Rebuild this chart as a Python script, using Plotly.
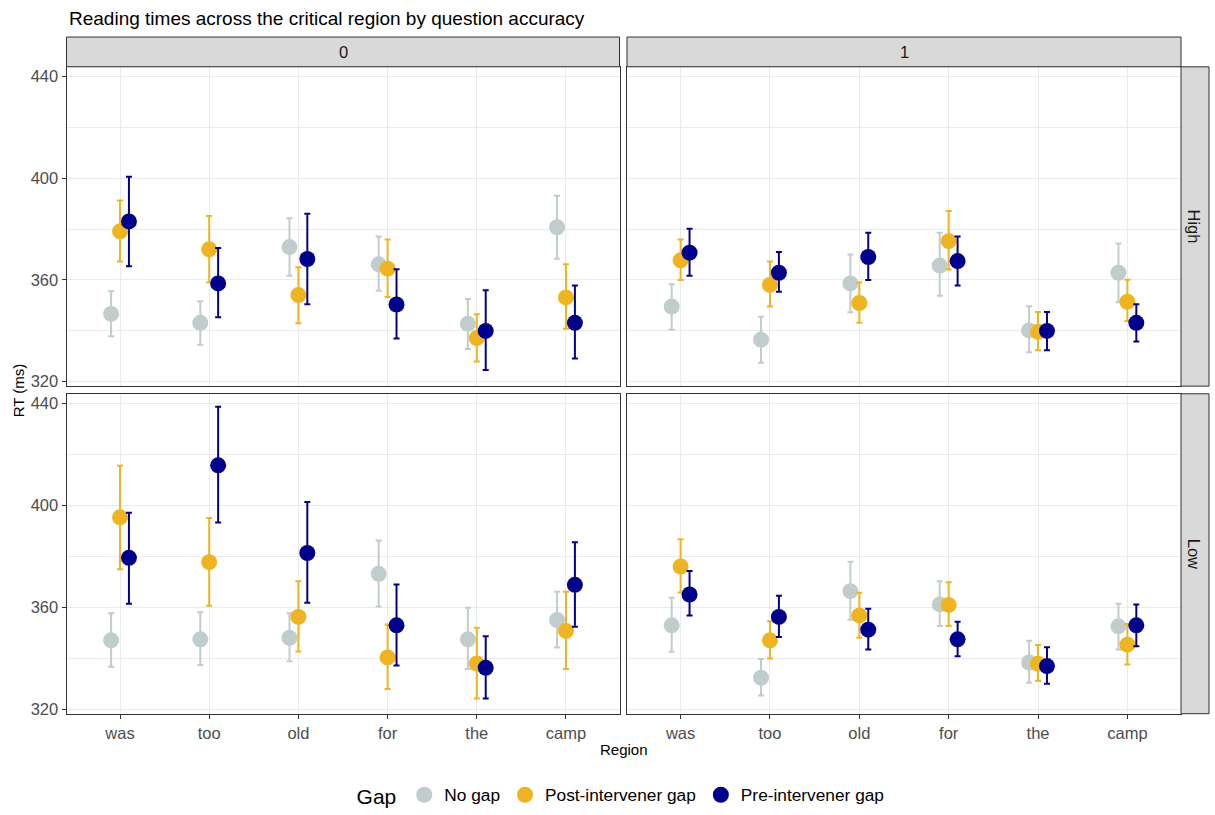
import plotly.graph_objects as go

# Regions of the sentence (x categories) and the gap conditions
regions = ["was", "too", "old", "for", "the", "camp"]
gap_levels = ["No gap", "Post-intervener gap", "Pre-intervener gap"]
gap_colors = ["#C1CDCD", "#EEB422", "#00008B"]
y_ticks = [320, 360, 400, 440]

# Accuracy 0, Working-memory High
acc0_high_nogap = [346.6, 343.1, 372.9, 366.1, 342.7, 380.7]
acc0_high_nogap_lo = [337.8, 334.5, 361.6, 355.7, 332.8, 368.3]
acc0_high_nogap_hi = [355.5, 351.6, 384.2, 377.1, 352.5, 393.1]
acc0_high_post = [379.1, 372.0, 354.0, 364.4, 337.1, 353.1]
acc0_high_post_lo = [367.2, 359.1, 342.9, 353.3, 327.9, 340.8]
acc0_high_post_hi = [391.2, 385.1, 365.0, 375.9, 346.5, 366.1]
acc0_high_pre = [383.0, 358.6, 368.2, 350.3, 339.9, 343.1]
acc0_high_pre_lo = [365.4, 345.3, 350.4, 336.9, 324.5, 329.1]
acc0_high_pre_hi = [400.6, 372.5, 386.0, 364.2, 355.9, 357.8]

# Accuracy 1, High
acc1_high_nogap = [349.5, 336.5, 358.6, 365.6, 340.1, 362.8]
acc1_high_nogap_lo = [340.4, 327.4, 347.3, 353.7, 331.5, 351.2]
acc1_high_nogap_hi = [358.3, 345.5, 370.0, 378.5, 349.6, 374.3]
acc1_high_post = [367.7, 358.0, 350.9, 375.2, 339.6, 351.4]
acc1_high_post_lo = [359.9, 349.5, 343.1, 364.1, 332.3, 343.8]
acc1_high_post_hi = [375.9, 367.2, 359.0, 387.1, 347.4, 360.0]
acc1_high_pre = [370.7, 362.8, 369.0, 367.4, 339.9, 343.1]
acc1_high_pre_lo = [361.6, 355.3, 359.9, 357.8, 332.3, 335.8]
acc1_high_pre_hi = [380.1, 371.0, 378.5, 377.1, 347.4, 350.4]

# Accuracy 0, Low
acc0_low_nogap = [347.0, 347.4, 348.0, 373.1, 347.4, 355.0]
acc0_low_nogap_lo = [336.6, 337.3, 338.8, 360.3, 335.8, 344.2]
acc0_low_nogap_hi = [357.6, 358.0, 357.6, 386.2, 359.8, 366.1]
acc0_low_post = [395.3, 377.7, 356.2, 340.3, 337.9, 350.7]
acc0_low_post_lo = [374.9, 360.6, 342.6, 327.9, 324.2, 335.8]
acc0_low_post_hi = [415.5, 395.0, 370.2, 353.2, 351.9, 366.1]
acc0_low_pre = [379.4, 415.7, 381.3, 352.9, 336.2, 368.8]
acc0_low_pre_lo = [361.4, 393.3, 361.8, 337.1, 324.2, 352.3]
acc0_low_pre_hi = [397.1, 438.7, 401.3, 368.9, 348.6, 385.5]

# Accuracy 1, Low
acc1_low_nogap = [352.9, 332.3, 366.3, 361.1, 338.3, 352.5]
acc1_low_nogap_lo = [342.5, 325.3, 355.1, 352.6, 330.4, 343.4]
acc1_low_nogap_hi = [363.7, 339.7, 377.9, 370.2, 346.8, 361.4]
acc1_low_post = [376.0, 347.0, 356.8, 360.9, 337.8, 345.3]
acc1_low_post_lo = [365.8, 339.9, 348.0, 352.6, 331.1, 337.5]
acc1_low_post_hi = [386.7, 354.5, 365.7, 369.8, 345.2, 353.4]
acc1_low_pre = [365.0, 356.2, 351.2, 347.4, 336.9, 352.9]
acc1_low_pre_lo = [356.8, 348.3, 343.4, 340.8, 330.0, 344.7]
acc1_low_pre_hi = [374.2, 364.5, 359.4, 354.3, 344.3, 361.1]

W, H = 1215, 815
FONT = "Liberation Sans, Arial, sans-serif"


def px_x(p):
    return p / W


def px_y(p):
    return 1 - p / H


# panel geometry (pixels)
col_x = [(66.5, 619.5), (627.0, 1181.0)]
row_y = [(67.3, 389.0), (396.7, 719.0)]
strip_top = 37.3
strip_right = 1209.0

panels = [
    # (row, col, [(mean, lo, hi) per gap])
    (0, 0, [(acc0_high_nogap, acc0_high_nogap_lo, acc0_high_nogap_hi),
            (acc0_high_post, acc0_high_post_lo, acc0_high_post_hi),
            (acc0_high_pre, acc0_high_pre_lo, acc0_high_pre_hi)]),
    (0, 1, [(acc1_high_nogap, acc1_high_nogap_lo, acc1_high_nogap_hi),
            (acc1_high_post, acc1_high_post_lo, acc1_high_post_hi),
            (acc1_high_pre, acc1_high_pre_lo, acc1_high_pre_hi)]),
    (1, 0, [(acc0_low_nogap, acc0_low_nogap_lo, acc0_low_nogap_hi),
            (acc0_low_post, acc0_low_post_lo, acc0_low_post_hi),
            (acc0_low_pre, acc0_low_pre_lo, acc0_low_pre_hi)]),
    (1, 1, [(acc1_low_nogap, acc1_low_nogap_lo, acc1_low_nogap_hi),
            (acc1_low_post, acc1_low_post_lo, acc1_low_post_hi),
            (acc1_low_pre, acc1_low_pre_lo, acc1_low_pre_hi)]),
]

dodge = [-0.1, 0.0, 0.1]
fig = go.Figure()
layout = {}

for k, (r, c, series) in enumerate(panels):
    n = k + 1
    xa = "x" if n == 1 else f"x{n}"
    ya = "y" if n == 1 else f"y{n}"
    for g, (mean, lo, hi) in enumerate(series):
        xs = [i + 1 + dodge[g] for i in range(len(regions))]
        fig.add_trace(go.Scatter(
            x=xs, y=mean, mode="markers", xaxis=xa, yaxis=ya,
            name=gap_levels[g], legendgroup=gap_levels[g], showlegend=(k == 0),
            marker=dict(color=gap_colors[g], size=16, line=dict(width=0)),
            error_y=dict(type="data", symmetric=False,
                         array=[h - m for h, m in zip(hi, mean)],
                         arrayminus=[m - l for m, l in zip(mean, lo)],
                         color=gap_colors[g], thickness=2, width=3),
        ))

    bottom = r == 1
    left = c == 0
    xkey = "xaxis" if n == 1 else f"xaxis{n}"
    ykey = "yaxis" if n == 1 else f"yaxis{n}"
    layout[xkey] = dict(
        domain=[px_x(col_x[c][0]), px_x(col_x[c][1])],
        anchor=ya, range=[0.4, 6.6],
        tickmode="array", tickvals=list(range(1, 7)), ticktext=regions,
        showticklabels=bottom, ticks="outside" if bottom else "",
        ticklen=4, tickwidth=1, tickcolor="#333333",
        tickfont=dict(family=FONT, size=16.5, color="#4D4D4D"),
        showgrid=True, gridcolor="#EBEBEB", gridwidth=1.1,
        showline=True, mirror=True, linecolor="#333333", linewidth=1,
        zeroline=False, fixedrange=True,
    )
    layout[ykey] = dict(
        domain=[px_y(row_y[r][1]), px_y(row_y[r][0])],
        anchor=xa, range=[318.2, 443.8],
        tickmode="array", tickvals=y_ticks,
        showticklabels=left, ticks="outside" if left else "",
        ticklen=4, tickwidth=1, tickcolor="#333333",
        tickfont=dict(family=FONT, size=16.5, color="#4D4D4D"),
        showgrid=True, gridcolor="#EBEBEB", gridwidth=1.1,
        minor=dict(tickmode="array", tickvals=[340, 380, 420],
                   showgrid=True, gridcolor="#EBEBEB", gridwidth=0.6, ticks=""),
        showline=True, mirror=True, linecolor="#333333", linewidth=1,
        zeroline=False, fixedrange=True,
    )

# facet strips
shapes = []
annotations = []
for c, lab in enumerate(["0", "1"]):
    shapes.append(dict(type="rect", xref="paper", yref="paper",
                       x0=px_x(col_x[c][0]), x1=px_x(col_x[c][1]),
                       y0=px_y(row_y[0][0]), y1=px_y(strip_top),
                       fillcolor="#D9D9D9", line=dict(color="#333333", width=1), layer="above"))
    annotations.append(dict(text=lab, xref="paper", yref="paper",
                            x=px_x((col_x[c][0] + col_x[c][1]) / 2),
                            y=px_y((strip_top + row_y[0][0]) / 2),
                            showarrow=False, xanchor="center", yanchor="middle",
                            font=dict(family=FONT, size=16.5, color="#1A1A1A")))
for r, lab in enumerate(["High", "Low"]):
    shapes.append(dict(type="rect", xref="paper", yref="paper",
                       x0=px_x(col_x[1][1]), x1=px_x(strip_right),
                       y0=px_y(row_y[r][1]), y1=px_y(row_y[r][0]),
                       fillcolor="#D9D9D9", line=dict(color="#333333", width=1), layer="above"))
    annotations.append(dict(text=lab, xref="paper", yref="paper",
                            x=px_x((col_x[1][1] + strip_right) / 2 - 1),
                            y=px_y((row_y[r][0] + row_y[r][1]) / 2),
                            showarrow=False, textangle=90,
                            xanchor="center", yanchor="middle",
                            font=dict(family=FONT, size=16.5, color="#1A1A1A")))

# axis titles and plot title
annotations.append(dict(text="Region", xref="paper", yref="paper",
                        x=px_x((col_x[0][0] + col_x[1][1]) / 2), y=px_y(755),
                        showarrow=False, xanchor="center", yanchor="middle",
                        font=dict(family=FONT, size=15, color="#000000")))
annotations.append(dict(text="RT (ms)", xref="paper", yref="paper",
                        x=px_x(18), y=px_y((row_y[0][0] + row_y[1][1]) / 2),
                        showarrow=False, textangle=-90, xanchor="center", yanchor="middle",
                        font=dict(family=FONT, size=15, color="#000000")))
annotations.append(dict(text="Reading times across the critical region by question accuracy",
                        xref="paper", yref="paper", x=px_x(66.5), y=px_y(19),
                        showarrow=False, xanchor="left", yanchor="middle",
                        font=dict(family=FONT, size=19, color="#000000")))

fig.update_layout(
    width=W, height=H,
    margin=dict(l=0, r=0, t=0, b=0),
    paper_bgcolor="#FFFFFF", plot_bgcolor="#FFFFFF",
    shapes=shapes, annotations=annotations,
    showlegend=True,
    legend=dict(orientation="h", x=0.512, xanchor="center", y=px_y(802), yanchor="middle",
                title=dict(text="Gap", font=dict(family=FONT, size=21, color="#000000")),
                font=dict(family=FONT, size=17.3, color="#000000"),
                itemsizing="trace", bgcolor="rgba(0,0,0,0)"),
    **layout,
)

fig.write_html("out.html")
